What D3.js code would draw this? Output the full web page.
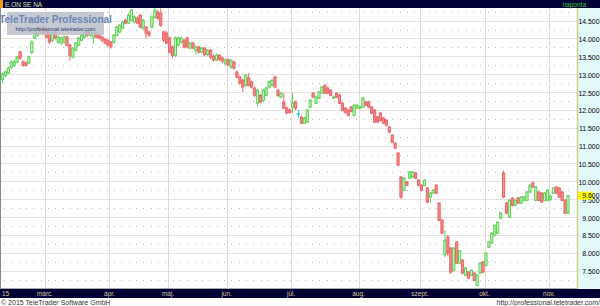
<!DOCTYPE html>
<html><head><meta charset="utf-8">
<script src="https://cdn.jsdelivr.net/npm/d3@7"></script>
<style>html,body{margin:0;padding:0;background:#fff;overflow:hidden}svg{display:block;font-family:"Liberation Sans",Arial,sans-serif}</style>
</head><body><svg id="c" width="600" height="306"></svg>
<script>
const title = "E.ON SE NA";
const interval = "naponta";
const monthLabels = ["15","márc.","ápr.","máj.","jún.","júl.","aug.","szept.","okt.","nov."];
const yTicks = [7.5,8,8.5,9,9.5,10,10.5,11,11.5,12,12.5,13,13.5,14,14.5];
const minorRows = [7.25,7.75,8.25,8.75,9.25,9.75,10.25,10.75,11.25,11.75,12.25,12.75,13.25,13.75,14.25,14.75];
const lastPrice = 9.6;
const logoTitle = "TeleTrader Professional";
const logoUrl = "http://professional.teletrader.com";
const footerLeft = "© 2015 TeleTrader Software GmbH";
const footerRight = "http://professional.teletrader.com/";

// daily candles [open, high, low, close], one array per month
const feb = [[12.85,13.05,12.75,13.00],[12.97,13.10,12.92,13.06],[13.03,13.20,13.00,13.17],[13.20,13.38,13.15,13.34],[13.25,13.40,13.20,13.34],[13.34,13.52,13.30,13.48],[13.62,13.66,13.40,13.45],[13.34,13.40,13.20,13.25],[13.31,13.36,13.20,13.25],[13.31,13.50,13.28,13.48],[13.60,13.95,13.58,13.90],[14.01,14.22,13.98,14.18],[14.09,14.32,14.05,14.29],[14.18,14.35,14.12,14.29],[14.32,14.38,14.10,14.15]];
const mar = [[14.23,14.28,14.00,14.04],[14.15,14.18,13.85,13.90],[13.95,14.20,13.90,14.15],[14.18,14.22,13.97,14.01],[13.90,14.08,13.85,14.04],[13.87,14.05,13.82,14.01],[13.90,14.10,13.86,14.04],[14.04,14.08,13.78,13.81],[13.81,13.85,13.38,13.53],[13.48,13.76,13.44,13.73],[13.67,13.90,13.64,13.87],[13.81,14.05,13.78,14.01],[13.95,14.12,13.92,14.09],[14.04,14.21,14.00,14.18],[14.18,14.22,14.05,14.09],[14.09,14.22,14.05,14.18],[14.04,14.18,13.85,14.15],[14.15,14.20,14.00,14.04],[14.09,14.12,13.97,14.01],[14.04,14.08,13.90,13.95],[13.98,14.01,13.84,13.87],[13.95,13.98,13.78,13.81]];
const apr = [[13.90,13.93,13.72,13.76],[13.90,14.12,13.86,14.09],[14.09,14.35,14.05,14.32],[14.18,14.40,14.15,14.37],[14.29,14.50,14.25,14.46],[14.51,14.55,14.40,14.43],[14.43,14.70,14.40,14.65],[14.51,14.82,14.48,14.79],[14.46,14.65,14.42,14.60],[14.57,14.62,14.40,14.43],[14.65,14.70,14.28,14.32],[14.29,14.55,14.25,14.51],[14.32,14.35,14.00,14.15],[14.18,14.22,14.05,14.09],[14.32,14.65,14.28,14.60],[14.60,14.85,14.55,14.79],[14.74,14.80,14.52,14.57],[14.71,14.84,14.32,14.37],[14.18,14.22,13.90,13.95],[14.15,14.20,13.84,13.87]];
const may = [[14.01,14.05,13.58,13.62],[13.76,13.80,13.45,13.53],[13.53,14.05,13.48,14.01],[13.81,14.05,13.78,14.01],[13.90,14.05,13.86,14.01],[13.95,13.98,13.72,13.76],[14.01,14.05,13.72,13.76],[13.73,13.90,13.70,13.87],[13.87,13.90,13.70,13.73],[13.67,13.80,13.55,13.76],[13.76,13.80,13.58,13.62],[13.62,13.76,13.58,13.73],[13.73,13.76,13.50,13.55],[13.55,13.70,13.50,13.67],[13.67,13.70,13.42,13.48],[13.50,13.55,13.35,13.40],[13.40,13.58,13.36,13.53],[13.53,13.56,13.36,13.42],[13.45,13.50,13.30,13.37],[13.30,13.45,13.25,13.40]];
const jun = [[13.40,13.44,13.22,13.26],[13.20,13.42,13.15,13.39],[13.34,13.38,13.12,13.17],[13.06,13.10,12.88,12.92],[12.92,12.96,12.70,12.75],[12.83,12.87,12.50,12.64],[12.69,13.00,12.64,12.97],[12.89,13.03,12.66,12.69],[12.78,12.82,12.60,12.64],[12.61,12.65,12.36,12.41],[12.19,12.58,12.10,12.55],[12.41,12.45,12.18,12.22],[12.27,12.58,12.22,12.55],[12.41,12.65,12.38,12.61],[12.64,12.82,12.60,12.78],[12.69,12.87,12.66,12.83],[12.92,12.96,12.60,12.64],[12.55,12.58,12.36,12.41],[12.36,12.50,12.32,12.47],[12.22,12.47,12.02,12.05],[12.05,12.10,11.88,11.91],[12.00,12.04,11.90,11.93]];
const jul = [[12.08,12.47,11.91,12.19],[12.22,12.26,12.00,12.05],[11.90,12.00,11.77,11.90],[11.80,11.84,11.60,11.63],[11.63,11.80,11.60,11.77],[11.66,12.02,11.63,11.99],[12.08,12.30,12.05,12.27],[12.47,12.50,12.33,12.36],[12.19,12.40,12.16,12.36],[12.33,12.53,12.30,12.50],[12.47,12.67,12.44,12.64],[12.69,12.72,12.44,12.47],[12.61,12.64,12.44,12.47],[12.55,12.58,12.38,12.41],[12.33,12.38,12.30,12.36],[12.47,12.50,12.33,12.36],[12.41,12.44,12.16,12.19],[12.19,12.22,11.96,11.99],[12.05,12.08,11.90,11.93],[11.99,12.02,11.82,11.85],[12.08,12.11,11.93,11.96],[11.85,12.16,11.82,12.13],[12.05,12.16,12.02,12.13]];
const aug = [[12.05,12.11,12.02,12.08],[12.08,12.36,12.05,12.33],[12.22,12.25,12.10,12.13],[12.22,12.25,12.05,12.08],[12.08,12.11,11.88,11.91],[11.99,12.02,11.63,11.66],[11.80,11.83,11.63,11.66],[11.91,11.94,11.68,11.71],[11.77,11.80,11.60,11.63],[11.71,11.74,11.54,11.57],[11.52,11.55,11.35,11.38],[11.29,11.32,11.07,11.10],[11.07,11.10,10.90,10.93],[10.79,10.82,10.42,10.45],[10.12,10.15,9.50,9.56],[9.75,10.12,9.72,10.09],[9.98,10.01,9.86,9.89],[10.09,10.29,10.06,10.26],[10.12,10.29,10.09,10.26],[10.23,10.26,10.06,10.09],[10.03,10.06,9.86,9.89]];
const sep = [[9.89,9.92,9.72,9.75],[9.89,10.06,9.86,10.03],[9.81,9.84,9.39,9.42],[9.56,9.70,9.40,9.67],[9.67,9.78,9.64,9.75],[9.89,9.92,9.64,9.67],[9.39,9.42,8.88,8.91],[8.91,8.94,8.52,8.55],[7.95,8.63,7.88,8.35],[8.44,8.50,7.90,7.99],[8.13,8.16,7.40,7.46],[7.51,8.16,7.48,8.13],[8.30,8.33,7.68,7.71],[7.71,8.08,7.68,8.05],[7.79,7.82,7.40,7.43],[7.37,7.60,7.34,7.57],[7.46,7.49,7.26,7.29],[7.37,7.54,7.34,7.51],[7.43,7.46,7.20,7.23],[7.09,7.40,7.05,7.37],[7.43,7.74,7.40,7.71],[7.74,7.77,7.43,7.46]];
const oct = [[7.65,8.02,7.62,7.99],[8.16,8.33,8.13,8.30],[8.27,8.58,8.24,8.55],[8.49,8.80,8.46,8.77],[8.55,8.88,8.52,8.85],[8.97,9.14,8.94,9.11],[10.23,10.30,9.53,9.56],[9.39,9.42,9.08,9.11],[9.00,9.50,8.97,9.47],[9.53,9.56,9.30,9.33],[9.33,9.50,9.30,9.47],[9.53,9.56,9.36,9.39],[9.39,9.59,9.36,9.56],[9.47,9.59,9.44,9.56],[9.47,9.73,9.44,9.70],[9.70,9.92,9.67,9.89],[9.95,10.00,9.81,9.84],[9.47,9.87,9.44,9.84],[9.70,9.73,9.44,9.47],[9.67,9.70,9.39,9.42],[9.47,9.70,9.44,9.67],[9.47,9.78,9.44,9.75]];
const nov = [[9.50,9.62,9.45,9.58],[9.67,9.84,9.64,9.81],[9.84,9.87,9.64,9.67],[9.81,9.84,9.53,9.56],[9.70,9.73,9.44,9.47],[9.47,9.50,9.08,9.11],[9.11,9.60,9.08,9.60]];

const months = [feb, mar, apr, may, jun, jul, aug, sep, oct, nov];

// build table
const candles = [];
const monthStart = [];
months.forEach(m => {
  monthStart.push(candles.length);
  m.forEach(d => candles.push({i: candles.length, o: d[0], h: d[1], l: d[2], c: d[3]}));
});
const N = candles.length;

const W = 600, H = 306;
const plotR = 577, plotT = 8, plotB = 288;
const svg = d3.select("#c");

const x = d3.scaleBand().domain(d3.range(N)).range([1.05, 1.05 + N * 2.93]).padding(0);
const y = d3.scaleLinear().domain([7.5, 14.5]).range([270.6, 20.6]);
const cx = i => x(i) + x.bandwidth() / 2;

svg.append("rect").attr("width", W).attr("height", H).attr("fill", "#fff");

// grid
const grid = svg.append("g");
grid.selectAll("line.h").data(yTicks).join("line")
  .attr("x1", 1).attr("x2", plotR).attr("y1", d => Math.round(y(d)) + 0.5).attr("y2", d => Math.round(y(d)) + 0.5)
  .attr("stroke", "#e9e1e1").attr("stroke-width", 1);
const dotXs = d3.range(4, plotR - 2, 7.33);
minorRows.forEach(v => {
  grid.selectAll(null).data(dotXs).join("rect")
    .attr("x", d => Math.round(d)).attr("y", Math.round(y(v))).attr("width", 1).attr("height", 1)
    .attr("fill", "#bdbdbd");
});
grid.selectAll("line.v").data(monthStart.slice(1)).join("line")
  .attr("x1", d => Math.round(x(d)) + 0.5).attr("x2", d => Math.round(x(d)) + 0.5)
  .attr("y1", plotT).attr("y2", plotB)
  .attr("stroke", "#e6d9d9").attr("stroke-width", 1);

// candles
const colorOf = d => d.c > d.o ? {f: "#c8f3c2", s: "#58cf50"} : d.c < d.o ? {f: "#f38c8c", s: "#e86464"} : {f: "#36c8e0", s: "#36c8e0"};
const cg = svg.append("g").selectAll("g").data(candles).join("g");
cg.append("line")
  .attr("x1", d => cx(d.i)).attr("x2", d => cx(d.i))
  .attr("y1", d => y(d.h)).attr("y2", d => y(d.l))
  .attr("stroke", d => colorOf(d).s).attr("stroke-width", 1);
cg.append("rect")
  .attr("x", d => cx(d.i) - 1.1).attr("width", 2.2)
  .attr("y", d => y(Math.max(d.o, d.c)))
  .attr("height", d => Math.max(0.6, Math.abs(y(d.o) - y(d.c))))
  .attr("fill", d => colorOf(d).f).attr("stroke", d => colorOf(d).s).attr("stroke-width", 1);

// logo
const logo = svg.append("g");
logo.append("rect").attr("x", 7).attr("y", 12).attr("width", 97).attr("height", 23)
  .attr("fill", "#bcc0ca").attr("opacity", 0.85);
logo.append("text").attr("x", 55.5).attr("y", 23).attr("text-anchor", "middle")
  .attr("font-size", 10).attr("font-weight", "bold").attr("fill", "#6a87b8").text(logoTitle);
logo.append("text").attr("x", 55.5).attr("y", 31).attr("text-anchor", "middle")
  .attr("font-size", 5.5).attr("fill", "#2c3c70").text(logoUrl);

// left border
svg.append("line").attr("x1", 0.5).attr("x2", 0.5).attr("y1", plotT).attr("y2", plotB).attr("stroke", "#8a8a8a");

// right axis panel
svg.append("rect").attr("x", plotR).attr("y", plotT).attr("width", W - plotR).attr("height", plotB - plotT + 1).attr("fill", "#e3fafc");
svg.append("line").attr("x1", plotR + 0.5).attr("x2", plotR + 0.5).attr("y1", plotT).attr("y2", plotB + 1).attr("stroke", "#d3cf86").attr("stroke-width", 1.5);
const yAxis = svg.append("g").attr("transform", `translate(${W - 0.5},0)`)
  .call(d3.axisLeft(y).tickValues(yTicks).tickFormat(d3.format(".3f")).tickSize(0).tickPadding(0));
yAxis.select(".domain").remove();
yAxis.selectAll("text").attr("font-size", 6.9).attr("fill", "#000").attr("font-family", "Liberation Sans, Arial, sans-serif").attr("dy", "0.45em");

// last price tag
svg.append("rect").attr("x", plotR + 1).attr("y", y(lastPrice) - 4).attr("width", 15).attr("height", 8).attr("fill", "#ffff00");
svg.append("text").attr("x", W - 0.5).attr("y", y(lastPrice) + 2.5).attr("text-anchor", "end").attr("font-size", 6.9).attr("fill", "#000").text(d3.format(".3f")(lastPrice));

// gray separator
svg.append("line").attr("x1", 0).attr("x2", plotR).attr("y1", plotB + 0.5).attr("y2", plotB + 0.5).attr("stroke", "#a8a8a8");

// header
svg.append("rect").attr("x", 0).attr("y", 0).attr("width", W).attr("height", 8).attr("fill", "#000035");
svg.append("rect").attr("x", 0).attr("y", 0).attr("width", 3).attr("height", 8).attr("fill", "#f39a1c");
svg.append("text").attr("x", 5).attr("y", 6.5).attr("font-size", 6.5).attr("fill", "#c7e6a8").text(title);
svg.append("text").attr("x", 586).attr("y", 6.5).attr("text-anchor", "end").attr("font-size", 6.5).attr("fill", "#3cc43c").text(interval);

// bottom bar with months
svg.append("rect").attr("x", 0).attr("y", 289).attr("width", W).attr("height", 9).attr("fill", "#000035");
svg.append("g").selectAll("text").data(monthStart).join("text")
  .attr("x", (d, k) => k === 0 ? 2 : x(d))
  .attr("y", 296)
  .attr("text-anchor", (d, k) => k === 0 ? "start" : "middle")
  .attr("font-size", 6.5).attr("fill", "#d6c69a")
  .text((d, k) => monthLabels[k]);

// footer
svg.append("text").attr("x", 1).attr("y", 304.5).attr("font-size", 7).attr("fill", "#333").text(footerLeft);
svg.append("text").attr("x", 600).attr("y", 304.5).attr("text-anchor", "end").attr("font-size", 7).attr("fill", "#333").text(footerRight);
</script>
</body></html>
